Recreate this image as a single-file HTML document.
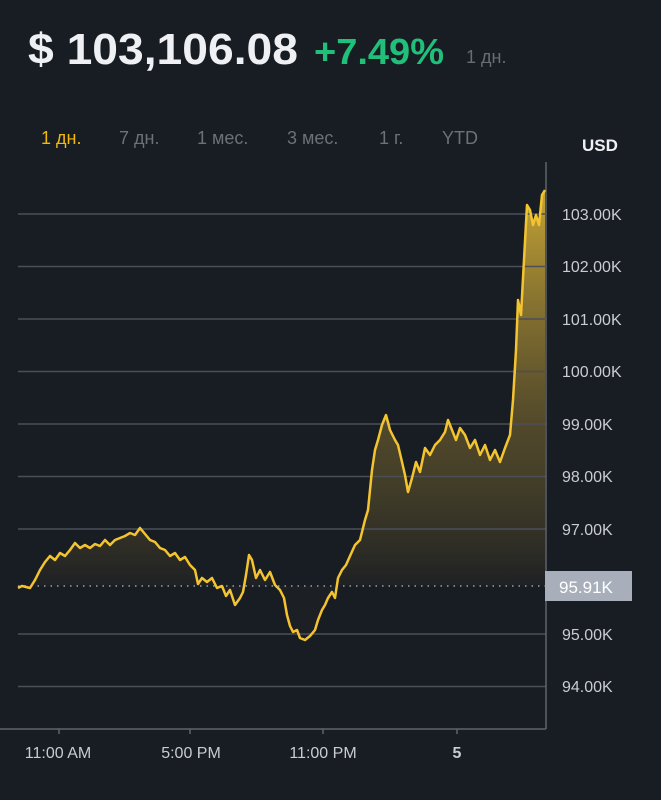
<!DOCTYPE html>
<html><head><meta charset="utf-8"><style>
body{margin:0;width:661px;height:800px;background:#181c23;overflow:hidden;font-family:"Liberation Sans",sans-serif;}
</style></head><body>
<svg width="661" height="800" xmlns="http://www.w3.org/2000/svg" style="position:absolute;left:0;top:0">
<defs><linearGradient id="g" gradientUnits="userSpaceOnUse" x1="0" y1="190" x2="0" y2="590">
<stop offset="0" stop-color="#f0c63a" stop-opacity="0.8"/><stop offset="0.6" stop-color="#b89838" stop-opacity="0.35"/><stop offset="1" stop-color="#f0c63a" stop-opacity="0.02"/></linearGradient></defs>
<text x="28" y="64" font-size="44" font-weight="bold" fill="#eef0f3" textLength="270" lengthAdjust="spacingAndGlyphs">$ 103,106.08</text>
<text x="314" y="64" font-size="36" font-weight="bold" fill="#21c07a" textLength="130" lengthAdjust="spacingAndGlyphs">+7.49%</text>
<text x="466" y="63" font-size="18" fill="#676c75">1 дн.</text>
<g font-size="18" fill="#6b7079">
<text x="41" y="144" fill="#f0b90b">1 дн.</text><text x="119" y="144">7 дн.</text><text x="197" y="144">1 мес.</text><text x="287" y="144">3 мес.</text><text x="379" y="144">1 г.</text><text x="442" y="144">YTD</text></g>
<text x="582" y="151" font-size="17" font-weight="bold" fill="#eef0f3">USD</text>
<polygon fill="url(#g)" points="18,588 22,586 30,588 35,580 40,570 45,562 50,556 55,560 60,553 65,556 70,550 75,543 80,548 85,545 90,548 95,544 100,546 105,540 110,545 115,540 120,538 125,536 130,533 135,535 140,528 145,534 150,540 155,542 160,548 165,550 170,556 175,553 180,560 185,557 190,565 195,570 198,584 202,578 207,582 212,578 217,588 222,586 226,596 230,590 235,605 240,598 243,592 246,575 249,555 252,560 256,578 260,570 265,580 270,572 275,585 280,590 284,598 287,615 290,626 293,632 297,630 300,638 305,640 310,636 315,630 318,620 322,610 325,605 328,598 332,592 335,598 338,578 342,570 346,565 350,556 355,545 360,540 365,520 368,510 372,470 375,450 378,440 382,425 386,415 390,430 395,440 398,445 402,462 405,475 408,492 412,478 416,462 420,472 425,448 430,455 435,445 440,440 445,432 448,420 452,430 456,440 460,428 465,435 470,448 475,440 480,455 485,445 490,460 495,450 500,462 505,448 510,435 513,400 516,350 518,300 521,315 524,260 527,205 530,210 533,225 536,215 539,225 542,195 545,190 545,586 18,586"/>
<g stroke="#4a4f58" stroke-width="1.5">
<line x1="18" y1="214" x2="546" y2="214"/><line x1="18" y1="266.5" x2="546" y2="266.5"/><line x1="18" y1="319" x2="546" y2="319"/><line x1="18" y1="371.5" x2="546" y2="371.5"/><line x1="18" y1="424" x2="546" y2="424"/><line x1="18" y1="476.5" x2="546" y2="476.5"/><line x1="18" y1="529" x2="546" y2="529"/><line x1="18" y1="634" x2="546" y2="634"/><line x1="18" y1="686.5" x2="546" y2="686.5"/>
</g>
<g stroke="#5f646d" stroke-width="1.5"><line x1="546" y1="162" x2="546" y2="729"/><line x1="0" y1="729" x2="546" y2="729"/>
<line x1="59" y1="729" x2="59" y2="734"/><line x1="190" y1="729" x2="190" y2="734"/><line x1="323" y1="729" x2="323" y2="734"/><line x1="457" y1="729" x2="457" y2="734"/></g>
<g font-size="16" fill="#c9ccd2">
<text x="562" y="220">103.00K</text><text x="562" y="272">102.00K</text><text x="562" y="325">101.00K</text><text x="562" y="377">100.00K</text><text x="562" y="430">99.00K</text><text x="562" y="482">98.00K</text><text x="562" y="535">97.00K</text><text x="562" y="640">95.00K</text><text x="562" y="692">94.00K</text></g>
<line x1="18" y1="586" x2="546" y2="586" stroke="#9aa0aa" stroke-width="1.5" stroke-dasharray="1.5 5"/>
<polyline fill="none" stroke="#f4c430" stroke-width="2.5" stroke-linejoin="round" points="18,588 22,586 30,588 35,580 40,570 45,562 50,556 55,560 60,553 65,556 70,550 75,543 80,548 85,545 90,548 95,544 100,546 105,540 110,545 115,540 120,538 125,536 130,533 135,535 140,528 145,534 150,540 155,542 160,548 165,550 170,556 175,553 180,560 185,557 190,565 195,570 198,584 202,578 207,582 212,578 217,588 222,586 226,596 230,590 235,605 240,598 243,592 246,575 249,555 252,560 256,578 260,570 265,580 270,572 275,585 280,590 284,598 287,615 290,626 293,632 297,630 300,638 305,640 310,636 315,630 318,620 322,610 325,605 328,598 332,592 335,598 338,578 342,570 346,565 350,556 355,545 360,540 365,520 368,510 372,470 375,450 378,440 382,425 386,415 390,430 395,440 398,445 402,462 405,475 408,492 412,478 416,462 420,472 425,448 430,455 435,445 440,440 445,432 448,420 452,430 456,440 460,428 465,435 470,448 475,440 480,455 485,445 490,460 495,450 500,462 505,448 510,435 513,400 516,350 518,300 521,315 524,260 527,205 530,210 533,225 536,215 539,225 542,195 545,190"/>
<rect x="545" y="571" width="87" height="30" fill="#a9afba"/>
<text x="559" y="593" font-size="17" fill="#ffffff">95.91K</text>
<g font-size="16" fill="#c9ccd2" text-anchor="middle">
<text x="58" y="758">11:00 AM</text><text x="191" y="758">5:00 PM</text><text x="323" y="758">11:00 PM</text><text x="457" y="758" font-weight="bold">5</text></g>
</svg>
</body></html>
